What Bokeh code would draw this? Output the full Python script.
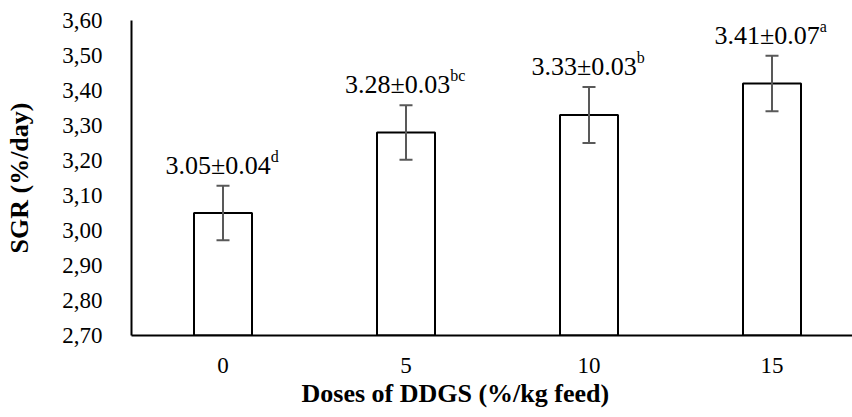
from bokeh.plotting import figure
from bokeh.models import Range1d, FixedTicker, Whisker, ColumnDataSource, Title, TeeHead
from bokeh.core.properties import value
from bokeh.embed import file_html
from bokeh.resources import INLINE

# ---- data ----
doses = ["0", "5", "10", "15"]
sgr = [3.05, 3.28, 3.33, 3.42]
err = [0.078, 0.078, 0.080, 0.079]
label_main = ["3.05\u00b10.04", "3.28\u00b10.03", "3.33\u00b10.03", "3.41\u00b10.07"]
label_sup = ["d", "bc", "b", "a"]
y_ticks = [2.7, 2.8, 2.9, 3.0, 3.1, 3.2, 3.3, 3.4, 3.5, 3.6]
y_tick_labels = ["2,70", "2,80", "2,90", "3,00", "3,10", "3,20", "3,30", "3,40", "3,50", "3,60"]

FONT = "'Liberation Serif', 'Times New Roman', serif"
W, H = 852, 417
LEFT, TOP, BOTTOM = 131, 20, 82
SPACING = 183.0  # px per category
frame_w = W - LEFT
frame_h = H - TOP - BOTTOM
y0, y1 = 2.70, 3.60
px_per_unit = frame_h / (y1 - y0)

idx = list(range(len(doses)))

p = figure(width=W, height=H, output_backend="svg", toolbar_location=None,
           x_range=Range1d(-0.5, -0.5 + frame_w / SPACING),
           y_range=Range1d(y0, y1),
           min_border_left=LEFT, min_border_right=0,
           min_border_top=TOP, min_border_bottom=BOTTOM)
p.outline_line_color = None
p.grid.visible = False
p.background_fill_color = "white"
p.border_fill_color = "white"

src = ColumnDataSource(dict(
    x=idx, top=sgr,
    upper=[v + e for v, e in zip(sgr, err)],
    lower=[v - e for v, e in zip(sgr, err)],
))

p.vbar(x="x", top="top", bottom=y0, width=0.317, source=src,
       fill_color="white", line_color="black", line_width=2)

wh = Whisker(base="x", upper="upper", lower="lower", source=src,
             line_color="#595959", line_width=2, level="annotation",
             upper_head=TeeHead(size=13, line_color="#595959", line_width=2),
             lower_head=TeeHead(size=13, line_color="#595959", line_width=2))
p.add_layout(wh)

# value labels with superscript letters
MAIN_SIZE = 26
SUP_SIZE = 16
main_w = 3.95 * MAIN_SIZE
sup_w = [0.45 * SUP_SIZE * len(s) for s in label_sup]
tops = [v + e for v, e in zip(sgr, err)]
label_y = [t + 20.5 / px_per_unit for t in tops]
sup_y = [t + (20.5 + 9) / px_per_unit for t in tops]
offs = [(main_w + sw) / 2 - sw for sw in sup_w]

lsrc = ColumnDataSource(dict(x=idx, y=label_y, ys=sup_y, main=label_main,
                             sup=label_sup, off=offs))
p.text(x="x", y="y", text="main", source=lsrc, x_offset="off",
       text_align="right", text_baseline="alphabetic",
       text_font=value(FONT), text_font_size=value(f"{MAIN_SIZE}px"),
       text_color="black")
p.text(x="x", y="ys", text="sup", source=lsrc, x_offset="off",
       text_align="left", text_baseline="alphabetic",
       text_font=value(FONT), text_font_size=value(f"{SUP_SIZE}px"),
       text_color="black")

# axes
for ax in (p.xaxis[0], p.yaxis[0]):
    ax.axis_line_color = "black"
    ax.axis_line_width = 2
    ax.major_tick_line_color = None
    ax.minor_tick_line_color = None
    ax.major_tick_out = 0
    ax.major_tick_in = 0
    ax.major_label_text_font = FONT
    ax.major_label_text_color = "black"

p.xaxis.ticker = FixedTicker(ticks=idx)
p.xaxis.major_label_overrides = {i: d for i, d in zip(idx, doses)}
p.xaxis.major_label_text_font_size = "23px"
p.xaxis.major_label_standoff = 22

p.yaxis.ticker = FixedTicker(ticks=y_ticks)
p.yaxis.major_label_overrides = {t: l for t, l in zip(y_ticks, y_tick_labels)}
p.yaxis.major_label_text_font_size = "23px"
p.yaxis.major_label_standoff = 29
p.yaxis.axis_label = "SGR (%/day)"
p.yaxis.axis_label_text_font = FONT
p.yaxis.axis_label_text_font_style = "bold"
p.yaxis.axis_label_text_font_size = "26px"
p.yaxis.axis_label_text_color = "black"
p.yaxis.axis_label_standoff = 25

# x-axis title, placed as a bottom title (left-aligned with offset to match original centring)
xt = Title(text="Doses of DDGS (%/kg feed)", align="left", offset=170,
           vertical_align="top",
           text_font=FONT, text_font_style="bold", text_font_size="26px",
           text_color="black", standoff=7)
p.add_layout(xt, "below")

open("out.html", "w").write(file_html(p, INLINE))
